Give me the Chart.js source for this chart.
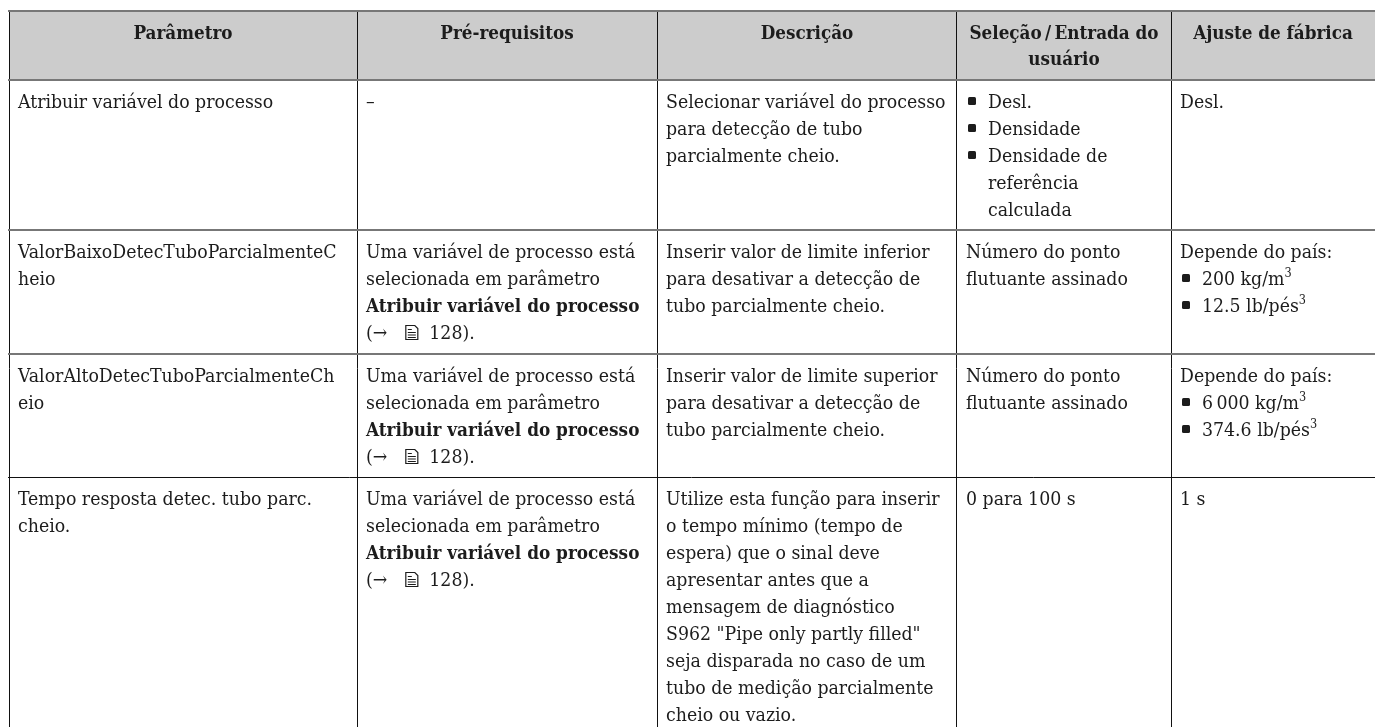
<!DOCTYPE html>
<html>
<head>
<meta charset="utf-8">
<title>Parâmetros</title>
<script src="https://cdn.jsdelivr.net/npm/chart.js@4"></script>
<style>
    html, body { margin: 0; padding: 0; background: #fff; overflow: hidden; }
    canvas { display: block; }
</style>
</head>
<body>
<canvas id="table-chart" width="1375" height="727"></canvas>
<script>
// --- Table content ---
const headers = [
    ["Parâmetro"],
    ["Pré-requisitos"],
    ["Descrição"],
    ["Seleção\u2009/\u2009Entrada do", "usuário"],
    ["Ajuste de fábrica"]
];

// "!" = bold line, "- " = bullet, "^3" = superscript, "@" = book icon
const needsParam = [
    "Uma variável de processo está",
    "selecionada em parâmetro",
    "!Atribuir variável do processo",
    "(→ @ 128)."
];

const parametro = [
    ["Atribuir variável do processo"],
    ["ValorBaixoDetecTuboParcialmenteC", "heio"],
    ["ValorAltoDetecTuboParcialmenteCh", "eio"],
    ["Tempo resposta detec. tubo parc.", "cheio."]
];
const preRequisitos = [["–"], needsParam, needsParam, needsParam];
const descricao = [
    ["Selecionar variável do processo", "para detecção de tubo", "parcialmente cheio."],
    ["Inserir valor de limite inferior", "para desativar a detecção de", "tubo parcialmente cheio."],
    ["Inserir valor de limite superior", "para desativar a detecção de", "tubo parcialmente cheio."],
    ["Utilize esta função para inserir", "o tempo mínimo (tempo de", "espera) que o sinal deve", "apresentar antes que a",
     "mensagem de diagnóstico", "S962 \"Pipe only partly filled\"", "seja disparada no caso de um", "tubo de medição parcialmente", "cheio ou vazio."]
];
const selecao = [
    ["- Desl.", "- Densidade", "- Densidade de", "  referência", "  calculada"],
    ["Número do ponto", "flutuante assinado"],
    ["Número do ponto", "flutuante assinado"],
    ["0 para 100 s"]
];
const ajuste = [
    ["Desl."],
    ["Depende do país:", "- 200 kg/m^3", "- 12.5 lb/pés^3"],
    ["Depende do país:", "- 6\u2009000 kg/m^3", "- 374.6 lb/pés^3"],
    ["1 s"]
];
const columns = [parametro, preRequisitos, descricao, selecao, ajuste];

// --- Grid layout (table edges on the scales) ---
const colEdges = [9, 357, 657, 957, 1171];
const rowEdges = [11, 80, 230, 354, 477];
const RIGHT = 1375, BOTTOM = 727;
const darkRows = [477];

const FONT = '"DejaVu Serif Condensed", "DejaVu Serif", serif';
const SIZE = 19.3, BOLD_SIZE = 18.8, HEAD_SIZE = 18.7, LINE = 27, TEXT = "#1c1c1c";

// --- Rich text line ---
function drawIcon(ctx, x, y) {
    ctx.save();
    ctx.strokeStyle = TEXT;
    ctx.lineWidth = 1.2;
    ctx.beginPath();
    ctx.moveTo(x + 13, y - 13.5);
    ctx.lineTo(x + 22, y - 13.5);
    ctx.lineTo(x + 25, y - 10.5);
    ctx.lineTo(x + 25, y + 0.5);
    ctx.lineTo(x + 13, y + 0.5);
    ctx.closePath();
    ctx.moveTo(x + 15, y - 9.5);
    ctx.lineTo(x + 19, y - 9.5);
    for (let i = 0; i < 3; i++) {
        ctx.moveTo(x + 15, y - 6.5 + i * 2.5);
        ctx.lineTo(x + 23, y - 6.5 + i * 2.5);
    }
    ctx.stroke();
    ctx.restore();
}

function drawLine(ctx, text, x, y, bold) {
    const font = bold ? `bold ${BOLD_SIZE}px ${FONT}` : `${SIZE}px ${FONT}`;
    ctx.font = font;
    text.split(/(\^\d|@)/).forEach(part => {
        if (!part) return;
        if (part === "@") {
            drawIcon(ctx, x, y);
            x += 31;
        } else if (part[0] === "^") {
            ctx.font = `${SIZE * 0.65}px ${FONT}`;
            ctx.fillText(part[1], x, y - 8);
            x += ctx.measureText(part[1]).width;
            ctx.font = font;
        } else {
            ctx.fillText(part, x, y);
            x += ctx.measureText(part).width;
        }
    });
}

function drawCell(ctx, lines, x, top) {
    lines.forEach((raw, i) => {
        const y = top + 28 + i * LINE;
        const bold = raw[0] === "!";
        let text = bold ? raw.slice(1) : raw;
        let tx = x;
        if (text.startsWith("- ")) {
            ctx.beginPath();
            ctx.roundRect(x + 2, y - 11, 8, 8, 1.5);
            ctx.fill();
            text = text.slice(2);
            tx = x + 22;
        } else if (text.startsWith("  ")) {
            text = text.slice(2);
            tx = x + 22;
        }
        drawLine(ctx, text, tx, y, bold);
    });
}

// --- Text plugin, placed through the chart scales ---
const tableText = {
    id: "tableText",
    afterDatasetsDraw(chart) {
        const { ctx, scales: { x, y } } = chart;
        ctx.save();
        ctx.fillStyle = TEXT;
        ctx.textBaseline = "alphabetic";
        headers.forEach((lines, c) => {
            const left = x.getPixelForValue(colEdges[c]);
            const right = x.getPixelForValue(colEdges[c + 1] ?? RIGHT);
            ctx.font = `bold ${HEAD_SIZE}px ${FONT}`;
            ctx.textAlign = "center";
            lines.forEach((t, i) => ctx.fillText(t, (left + right) / 2, y.getPixelForValue(rowEdges[0]) + 28 + i * 26));
        });
        ctx.textAlign = "left";
        columns.forEach((col, c) => {
            col.forEach((lines, r) => {
                drawCell(ctx, lines, x.getPixelForValue(colEdges[c]) + 9, y.getPixelForValue(rowEdges[r + 1]));
            });
        });
        ctx.restore();
    }
};

// --- Chart ---
new Chart(document.getElementById("table-chart"), {
    type: "line",
    data: {
        datasets: [{
            data: [{ x: colEdges[0], y: rowEdges[1] }, { x: RIGHT, y: rowEdges[1] }],
            borderWidth: 0,
            pointRadius: 0,
            backgroundColor: "#cccccc",
            fill: { value: rowEdges[0] }
        }]
    },
    options: {
        responsive: false,
        animation: false,
        layout: { padding: { left: 8, top: 10 } },
        plugins: { legend: { display: false }, tooltip: { enabled: false } },
        scales: {
            x: {
                type: "linear",
                min: 8,
                max: RIGHT,
                border: { display: false },
                ticks: { display: false },
                grid: { z: 1, drawTicks: false, color: "#111", lineWidth: 1 },
                afterBuildTicks: s => { s.ticks = colEdges.map(value => ({ value })); }
            },
            y: {
                type: "linear",
                reverse: true,
                min: 10,
                max: BOTTOM,
                border: { display: false },
                ticks: { display: false },
                grid: {
                    z: 2,
                    drawTicks: false,
                    color: c => darkRows.includes(c.tick.value) ? "#111" : "#777",
                    lineWidth: c => darkRows.includes(c.tick.value) ? 1 : 2
                },
                afterBuildTicks: s => { s.ticks = rowEdges.map(value => ({ value })); }
            }
        }
    },
    plugins: [tableText]
});
</script>
</body>
</html>
